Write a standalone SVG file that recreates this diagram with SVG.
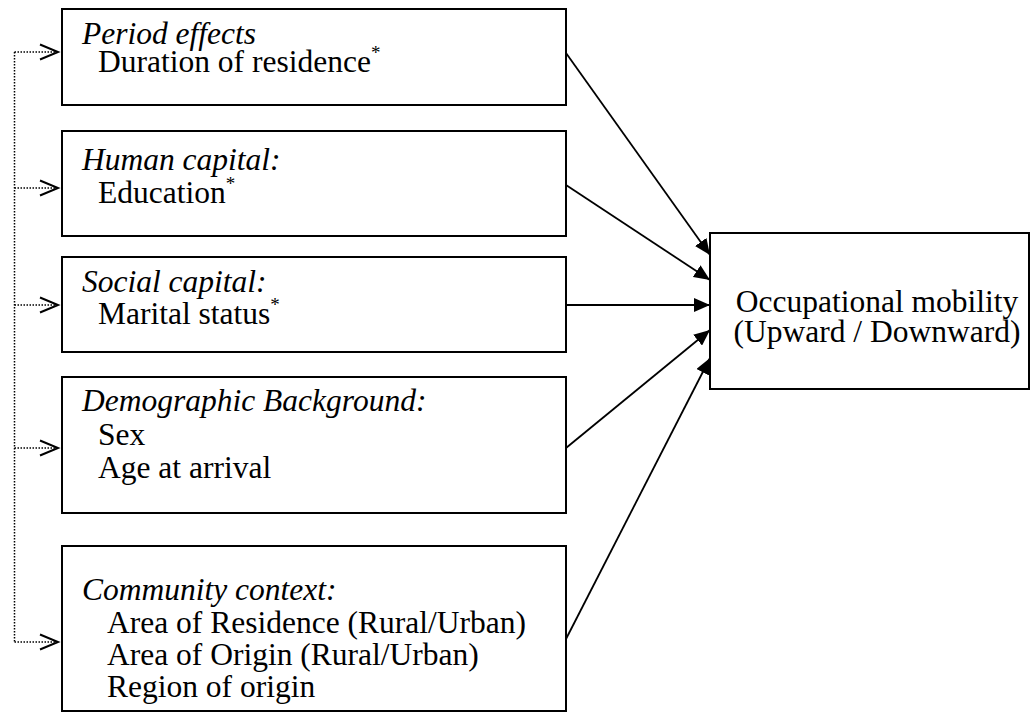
<svg xmlns="http://www.w3.org/2000/svg" width="1032" height="713" viewBox="0 0 1032 713">
<style>
  .box { fill: #ffffff; stroke: #000000; stroke-width: 2; }
  .t { font-family: "Liberation Serif", "Times New Roman", serif; font-size: 31.5px; fill: #000000; }
  .h { font-style: italic; }
  .sup { font-size: 19px; }
  .conn { stroke: #000000; stroke-width: 1.8; fill: none; }
  .dot { stroke: #000000; stroke-width: 1.5; fill: none; stroke-dasharray: 1.5 1.5; }
  .chev { stroke: #000000; stroke-width: 2; fill: none; }
</style>
<defs>
  <marker id="ah" viewBox="0 0 16 14" refX="16" refY="7" markerWidth="16" markerHeight="14" markerUnits="userSpaceOnUse" orient="auto">
    <path d="M0,0 L16,7 L0,14 Z" fill="#000000"/>
  </marker>
</defs>
<rect x="0" y="0" width="1032" height="713" fill="#ffffff"/>

<g id="connectors">
  <line class="conn" x1="566" y1="53" x2="710" y2="255" marker-end="url(#ah)"/>
  <line class="conn" x1="566" y1="185" x2="710" y2="280" marker-end="url(#ah)"/>
  <line class="conn" x1="566" y1="305" x2="710" y2="305" marker-end="url(#ah)"/>
  <line class="conn" x1="566" y1="448" x2="710" y2="330" marker-end="url(#ah)"/>
  <line class="conn" x1="566" y1="639" x2="710" y2="358" marker-end="url(#ah)"/>
  <g id="feedback">
    <line class="dot" x1="14.5" y1="52" x2="14.5" y2="642"/>
    <line class="dot" x1="14.5" y1="52" x2="57" y2="52"/>
    <line class="dot" x1="14.5" y1="188" x2="57" y2="188"/>
    <line class="dot" x1="14.5" y1="305" x2="57" y2="305"/>
    <line class="dot" x1="14.5" y1="448" x2="57" y2="448"/>
    <line class="dot" x1="14.5" y1="642" x2="57" y2="642"/>
    <polyline class="chev" points="40,44.5 58,52 40,59.5"/>
    <polyline class="chev" points="40,180.5 58,188 40,195.5"/>
    <polyline class="chev" points="40,297.5 58,305 40,312.5"/>
    <polyline class="chev" points="40,440.5 58,448 40,455.5"/>
    <polyline class="chev" points="40,634.5 58,642 40,649.5"/>
  </g>
</g>

<g id="period">
  <rect class="box" x="62" y="9" width="504" height="96"/>
  <text class="t h" x="82" y="44">Period effects</text>
  <text class="t" x="98" y="72">Duration of residence<tspan class="sup" dy="-13">*</tspan></text>
</g>

<g id="human">
  <rect class="box" x="62" y="131" width="504" height="105"/>
  <text class="t h" x="82" y="170">Human capital:</text>
  <text class="t" x="98" y="203">Education<tspan class="sup" dy="-13">*</tspan></text>
</g>

<g id="social">
  <rect class="box" x="62" y="257" width="504" height="95"/>
  <text class="t h" x="82" y="292">Social capital:</text>
  <text class="t" x="98" y="324">Marital status<tspan class="sup" dy="-13">*</tspan></text>
</g>

<g id="demographic">
  <rect class="box" x="62" y="377" width="504" height="136"/>
  <text class="t h" x="82" y="411">Demographic Background:</text>
  <text class="t" x="98" y="445">Sex</text>
  <text class="t" x="98" y="478">Age at arrival</text>
</g>

<g id="community">
  <rect class="box" x="62" y="546" width="504" height="165"/>
  <text class="t h" x="82" y="600">Community context:</text>
  <text class="t" x="107" y="633">Area of Residence (Rural/Urban)</text>
  <text class="t" x="107" y="665">Area of Origin (Rural/Urban)</text>
  <text class="t" x="107" y="697">Region of origin</text>
</g>

<g id="outcome">
  <rect class="box" x="710" y="233" width="319" height="156"/>
  <text class="t" x="877" y="312" text-anchor="middle">Occupational mobility</text>
  <text class="t" x="877" y="342" text-anchor="middle">(Upward / Downward)</text>
</g>
</svg>
